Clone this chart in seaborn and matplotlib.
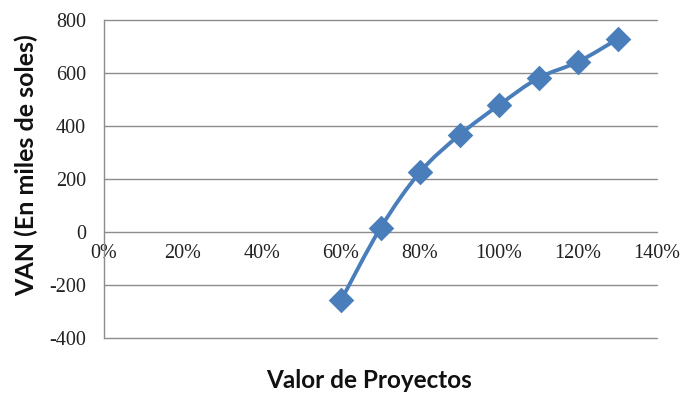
import numpy as np
import pandas as pd
import seaborn as sns
import matplotlib
matplotlib.use("Agg")
import matplotlib.pyplot as plt
from matplotlib.path import Path
from matplotlib.patches import PathPatch
from matplotlib.ticker import FuncFormatter

# Project value (as fraction) vs. NPV in thousands of soles
valor = [0.6, 0.7, 0.8, 0.9, 1.0, 1.1, 1.2, 1.3]
van = [-258, 15, 226, 366, 479, 581, 642, 728]

y_ticks = [-400, -200, 0, 200, 400, 600, 800]
x_ticks = [0.0, 0.2, 0.4, 0.6, 0.8, 1.0, 1.2, 1.4]

line_color = "#4A7EBB"
grid_color = "#8C8C8C"

sns.set_theme(style="white")
plt.rcParams["font.family"] = ["Liberation Serif", "DejaVu Sans"]

df = pd.DataFrame({"valor": valor, "van": van})

fig = plt.figure(figsize=(6.92, 3.93), dpi=100)
ax = fig.add_axes([104 / 692, 1 - 338 / 393, (657 - 104) / 692, (338 - 20) / 393])

# Smoothed connecting curve (Catmull-Rom segments as cubic Bezier path)
xs = np.array(valor, dtype=float)
ys = np.array(van, dtype=float)
verts = [(xs[0], ys[0])]
codes = [Path.MOVETO]
n = len(xs)
for i in range(n - 1):
    p0 = np.array([xs[max(i - 1, 0)], ys[max(i - 1, 0)]])
    p1 = np.array([xs[i], ys[i]])
    p2 = np.array([xs[i + 1], ys[i + 1]])
    p3 = np.array([xs[min(i + 2, n - 1)], ys[min(i + 2, n - 1)]])
    c1 = p1 + (p2 - p0) / 6.0
    c2 = p2 - (p3 - p1) / 6.0
    verts += [tuple(c1), tuple(c2), tuple(p2)]
    codes += [Path.CURVE4] * 3
ax.add_patch(PathPatch(Path(verts, codes), facecolor="none",
                       edgecolor=line_color, linewidth=2.8, zorder=3,
                       capstyle="round", joinstyle="round"))

sns.scatterplot(data=df, x="valor", y="van", ax=ax, marker="D", s=170,
                color=line_color, edgecolor=line_color, linewidth=0, zorder=4,
                legend=False)

ax.set_xlim(0, 1.4)
ax.set_ylim(-400, 800)
ax.set_yticks(y_ticks)
ax.set_xticks(x_ticks)
ax.yaxis.set_major_formatter(FuncFormatter(lambda v, p: f"{int(v)}"))
ax.xaxis.set_major_formatter(FuncFormatter(lambda v, p: f"{int(round(v * 100))}%"))

# horizontal gridlines, including the edges of the value range
ax.grid(False)
for yv in y_ticks:
    ax.axhline(yv, color=grid_color, linewidth=1.0, zorder=1, clip_on=False)
for s in ["top", "right", "bottom"]:
    ax.spines[s].set_visible(False)
ax.spines["left"].set_color(grid_color)
ax.spines["left"].set_linewidth(1.0)

# x tick labels sit just beneath the zero line
ax.spines["bottom"].set_position(("data", 0))
ax.tick_params(axis="x", length=0, pad=9, labelsize=14.5, colors="#222222")
ax.tick_params(axis="y", length=0, pad=13, labelsize=14.5, colors="#222222")

ax.set_xlabel("")
ax.set_ylabel("")
fig.text(369 / 692, 1 - 380 / 393, "Valor de Proyectos", ha="center", va="center",
         fontsize=17.5, fontweight="bold", family=["Lato", "DejaVu Sans"], color="#111111")
fig.text(26 / 692, 1 - 165 / 393, "VAN (En miles de soles)", ha="center", va="center",
         rotation=90, fontsize=18, fontweight="bold", family=["Lato", "DejaVu Sans"],
         color="#111111")

fig.savefig("out.png", dpi=100)
